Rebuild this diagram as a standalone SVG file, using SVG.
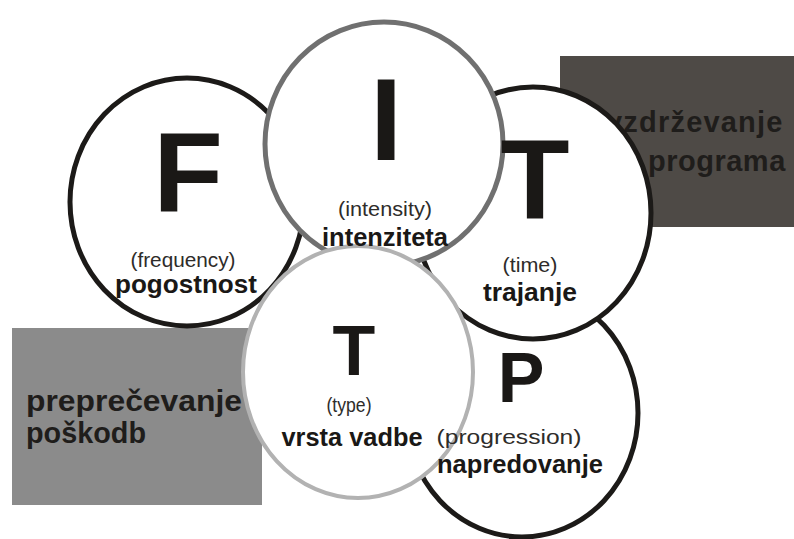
<svg xmlns="http://www.w3.org/2000/svg" width="794" height="539" viewBox="0 0 794 539">
<style>
.blk{fill:#ffffff;stroke:#1c1a18;stroke-width:5}
.gi{fill:#ffffff;stroke:#707070;stroke-width:5}
.gt{fill:#ffffff;stroke:#b2b2b2;stroke-width:4}
.big{font-family:"Liberation Sans",Arial,sans-serif;font-weight:bold;fill:#1a1816;text-anchor:middle}
.sub{font-family:"Liberation Sans",Arial,sans-serif;font-size:20px;fill:#2e2c2a;text-anchor:middle}
.lab{font-family:"Liberation Sans",Arial,sans-serif;font-weight:bold;font-size:26px;fill:#1a1816;text-anchor:middle}
.box{font-family:"Liberation Sans",Arial,sans-serif;font-weight:bold;fill:#1f1d1b}
</style>
<rect x="0" y="0" width="794" height="539" fill="#ffffff"/>
<g id="box-vzdrzevanje">
<rect x="560" y="56" width="234" height="171" fill="#4e4a46"/>
<text class="box" x="606" y="132" font-size="29" letter-spacing="1.2">vzdrževanje</text>
<text class="box" x="648" y="171" font-size="29" letter-spacing="0.5">programa</text>
</g>
<g id="box-preprecevanje">
<rect x="12" y="328" width="250" height="177" fill="#8b8b8b"/>
<text class="box" x="26" y="411" font-size="29" textLength="216" lengthAdjust="spacingAndGlyphs">preprečevanje</text>
<text class="box" x="26" y="443" font-size="29" textLength="120" lengthAdjust="spacingAndGlyphs">poškodb</text>
</g>
<g id="node-P">
<ellipse class="blk" cx="522" cy="413" rx="116" ry="124"/>
</g>
<g id="node-F">
<ellipse class="blk" cx="187" cy="202" rx="117" ry="124"/>
</g>
<g id="node-T-time">
<ellipse class="blk" cx="533" cy="213" rx="118" ry="126"/>
</g>
<g id="node-I">
<ellipse class="gi" cx="384" cy="144" rx="119" ry="122"/>
</g>
<g id="node-T-type">
<ellipse class="gt" cx="358" cy="372" rx="115" ry="126"/>
</g>
<g id="label-F">
<text class="big" x="188" y="212" font-size="114">F</text>
<text class="sub" x="183" y="267" textLength="105" lengthAdjust="spacingAndGlyphs">(frequency)</text>
<text class="lab" x="186" y="293" textLength="142" lengthAdjust="spacingAndGlyphs">pogostnost</text>
</g>
<g id="label-I">
<text class="big" x="386" y="160" font-size="116">I</text>
<text class="sub" x="385" y="216" textLength="94" lengthAdjust="spacingAndGlyphs">(intensity)</text>
<text class="lab" x="385" y="246" textLength="126" lengthAdjust="spacingAndGlyphs">intenziteta</text>
</g>
<g id="label-T-time">
<text class="big" x="535" y="218" font-size="113">T</text>
<text class="sub" x="530" y="272" textLength="55" lengthAdjust="spacingAndGlyphs">(time)</text>
<text class="lab" x="530" y="301" textLength="94" lengthAdjust="spacingAndGlyphs">trajanje</text>
</g>
<g id="label-T-type">
<text class="big" x="354" y="375" font-size="70">T</text>
<text class="sub" x="349" y="412" textLength="45" lengthAdjust="spacingAndGlyphs">(type)</text>
<text class="lab" x="352" y="446" textLength="141" lengthAdjust="spacingAndGlyphs">vrsta vadbe</text>
</g>
<g id="label-P">
<text class="big" x="521" y="402" font-size="70">P</text>
<text class="sub" x="509" y="444" textLength="145" lengthAdjust="spacingAndGlyphs">(progression)</text>
<text class="lab" x="520" y="473" textLength="166" lengthAdjust="spacingAndGlyphs">napredovanje</text>
</g>
</svg>
